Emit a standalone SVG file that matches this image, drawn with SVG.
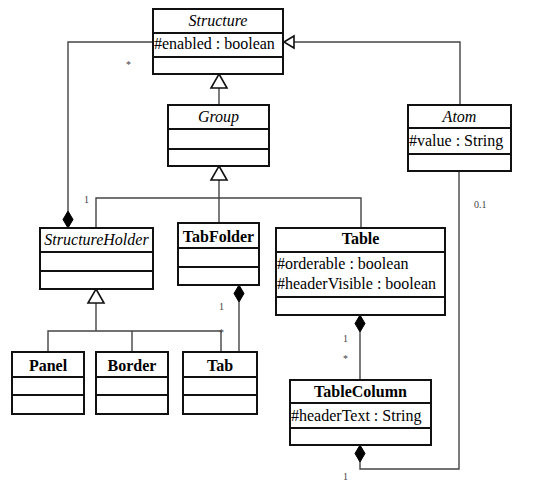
<svg xmlns="http://www.w3.org/2000/svg" width="542" height="482" viewBox="0 0 542 482">
<style>
.box{fill:#fff;stroke:#111;stroke-width:2}
.div{stroke:#111;stroke-width:2}
.ln{fill:none;stroke:#444;stroke-width:1.4}
.tri{fill:#fff;stroke:#111;stroke-width:1.6}
.dia{fill:#000;stroke:#000;stroke-width:1}
text{font-family:"Liberation Serif","Times New Roman",serif;fill:#000}
.nm{font-size:16px;text-anchor:middle}
.it{font-style:italic}
.b{font-weight:bold}
.at{font-size:16px}
.m{font-size:10px;fill:#444}
</style>
<rect width="542" height="482" fill="#fff"/>
<g id="connectors">
<polyline class="ln" points="153,42 68,42 68,211"/>
<path class="dia" d="M68,211 L73,219.5 L68,228 L63,219.5 Z"/>
<polyline class="ln" points="294,42 460,42 460,105"/>
<path class="tri" d="M284,42 L294,36 L294,48 Z"/>
<line class="ln" x1="219" y1="88" x2="219" y2="105"/>
<path class="tri" d="M219,74 L227,88 L211,88 Z"/>
<polyline class="ln" points="96,228 96,198 361,198 361,228"/>
<line class="ln" x1="219" y1="180" x2="219" y2="223"/>
<path class="tri" d="M219,166 L227,180 L211,180 Z"/>
<polyline class="ln" points="48,352 48,331 221,331 221,352"/>
<line class="ln" x1="132" y1="331" x2="132" y2="352"/>
<line class="ln" x1="96" y1="303" x2="96" y2="331"/>
<path class="tri" d="M96,289 L104,303 L88,303 Z"/>
<line class="ln" x1="239" y1="302" x2="239" y2="352"/>
<path class="dia" d="M239,285 L244,293.5 L239,302 L234,293.5 Z"/>
<line class="ln" x1="360" y1="332" x2="360" y2="380"/>
<path class="dia" d="M360,315 L365,323.5 L360,332 L355,323.5 Z"/>
<polyline class="ln" points="459,171 459,469 360,469 360,462"/>
<path class="dia" d="M360,445 L365,453.5 L360,462 L355,453.5 Z"/>
<text class="m" x="126" y="68">*</text>
<text class="m" x="84" y="203">1</text>
<text class="m" x="474" y="208">0.1</text>
<text class="m" x="219" y="310">1</text>
<text class="m" x="219" y="336">*</text>
<text class="m" x="343" y="342">1</text>
<text class="m" x="343" y="362">*</text>
<text class="m" x="343" y="480">1</text>
</g>
<g id="Structure">
<rect class="box" x="153" y="9" width="130" height="65"/>
<line class="div" x1="153" y1="33" x2="283" y2="33"/>
<line class="div" x1="153" y1="57" x2="283" y2="57"/>
<text class="nm it" x="218" y="26">Structure</text>
<text class="at" x="154" y="49">#enabled : boolean</text>
</g>
<g id="Group">
<rect class="box" x="168" y="105" width="101" height="61"/>
<line class="div" x1="168" y1="129" x2="269" y2="129"/>
<line class="div" x1="168" y1="149" x2="269" y2="149"/>
<text class="nm it" x="218.5" y="122">Group</text>
</g>
<g id="Atom">
<rect class="box" x="408" y="105" width="103" height="66"/>
<line class="div" x1="408" y1="128" x2="511" y2="128"/>
<line class="div" x1="408" y1="154" x2="511" y2="154"/>
<text class="nm it" x="459.5" y="122">Atom</text>
<text class="at" x="409" y="146">#value : String</text>
</g>
<g id="StructureHolder">
<rect class="box" x="40" y="228" width="113" height="61"/>
<line class="div" x1="40" y1="252" x2="153" y2="252"/>
<line class="div" x1="40" y1="271" x2="153" y2="271"/>
<text class="nm it" x="96.5" y="245">StructureHolder</text>
</g>
<g id="TabFolder">
<rect class="box" x="178" y="223" width="81" height="62"/>
<line class="div" x1="178" y1="248" x2="259" y2="248"/>
<line class="div" x1="178" y1="267" x2="259" y2="267"/>
<text class="nm b" x="218.5" y="242">TabFolder</text>
</g>
<g id="Table">
<rect class="box" x="276" y="228" width="169" height="87"/>
<line class="div" x1="276" y1="252" x2="445" y2="252"/>
<line class="div" x1="276" y1="297" x2="445" y2="297"/>
<text class="nm b" x="360.5" y="244">Table</text>
<text class="at" x="277" y="269">#orderable : boolean</text>
<text class="at" x="277" y="289">#headerVisible : boolean</text>
</g>
<g id="Panel">
<rect class="box" x="12" y="352" width="72" height="62"/>
<line class="div" x1="12" y1="377" x2="84" y2="377"/>
<line class="div" x1="12" y1="395" x2="84" y2="395"/>
<text class="nm b" x="48" y="371">Panel</text>
</g>
<g id="Border">
<rect class="box" x="96" y="352" width="72" height="62"/>
<line class="div" x1="96" y1="377" x2="168" y2="377"/>
<line class="div" x1="96" y1="395" x2="168" y2="395"/>
<text class="nm b" x="132" y="371">Border</text>
</g>
<g id="Tab">
<rect class="box" x="183" y="352" width="74" height="62"/>
<line class="div" x1="183" y1="377" x2="257" y2="377"/>
<line class="div" x1="183" y1="395" x2="257" y2="395"/>
<text class="nm b" x="220" y="371">Tab</text>
</g>
<g id="TableColumn">
<rect class="box" x="290" y="380" width="141" height="65"/>
<line class="div" x1="290" y1="403" x2="431" y2="403"/>
<line class="div" x1="290" y1="428" x2="431" y2="428"/>
<text class="nm b" x="360.5" y="397">TableColumn</text>
<text class="at" x="291" y="421">#headerText : String</text>
</g>
</svg>
